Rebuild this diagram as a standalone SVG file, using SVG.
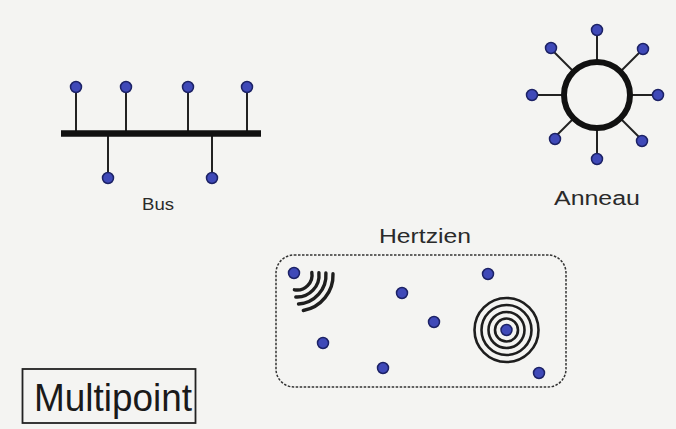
<svg xmlns="http://www.w3.org/2000/svg" width="676" height="429" viewBox="0 0 676 429">
  <defs>
    <style>
      .node { fill: #3f49b8; stroke: #1c2266; stroke-width: 1.5; }
      .wire { stroke: #222; stroke-width: 2; fill: none; }
      .label { font-family: "Liberation Sans", Arial, sans-serif; fill: #2a2a2a; text-anchor: middle; }
      .wave { stroke: #1e1e1e; stroke-width: 2.6; fill: none; }
      .arc { stroke: #1e1e1e; stroke-width: 3.4; fill: none; stroke-linecap: round; }
    </style>
  </defs>
  <rect width="676" height="429" fill="#f4f4f2"/>

  <!-- Bus topology -->
  <g id="bus">
    <g id="bus-wires">
      <line class="wire" x1="76" y1="87" x2="76" y2="133"/>
      <line class="wire" x1="126" y1="87" x2="126" y2="133"/>
      <line class="wire" x1="188" y1="87" x2="188" y2="133"/>
      <line class="wire" x1="247" y1="87" x2="247" y2="133"/>
      <line class="wire" x1="108" y1="133" x2="108" y2="178"/>
      <line class="wire" x1="212" y1="133" x2="212" y2="178"/>
      <line x1="61" y1="133.5" x2="261" y2="133.5" stroke="#111" stroke-width="6.5"/>
    </g>
    <circle class="node" cx="76" cy="87" r="5.5"/>
    <circle class="node" cx="126" cy="87" r="5.5"/>
    <circle class="node" cx="188" cy="87" r="5.5"/>
    <circle class="node" cx="247" cy="87" r="5.5"/>
    <circle class="node" cx="108" cy="178" r="5.5"/>
    <circle class="node" cx="212" cy="178" r="5.5"/>
    <text class="label" x="158" y="210" font-size="17" textLength="32" lengthAdjust="spacingAndGlyphs">Bus</text>
  </g>

  <!-- Ring topology -->
  <g id="anneau">
    <g id="ring-wires">
      <line class="wire" x1="597" y1="30" x2="597" y2="160"/>
      <line class="wire" x1="532" y1="95" x2="662" y2="95"/>
      <line class="wire" x1="551" y1="49" x2="643" y2="141"/>
      <line class="wire" x1="643" y1="49" x2="551" y2="141"/>
    </g>
    <circle cx="597" cy="95" r="33" fill="#f4f4f2" stroke="#111" stroke-width="6"/>
    <circle class="node" cx="597" cy="30" r="5.5"/>
    <circle class="node" cx="643" cy="49" r="5.5"/>
    <circle class="node" cx="658" cy="95" r="5.5"/>
    <circle class="node" cx="642" cy="141" r="5.5"/>
    <circle class="node" cx="597" cy="159" r="5.5"/>
    <circle class="node" cx="555" cy="139" r="5.5"/>
    <circle class="node" cx="532" cy="95" r="5.5"/>
    <circle class="node" cx="551" cy="48" r="5.5"/>
    <text class="label" x="597" y="205" font-size="20" textLength="86" lengthAdjust="spacingAndGlyphs">Anneau</text>
  </g>

  <!-- Wireless (radio) -->
  <g id="hertzien">
    <text class="label" x="425" y="243" font-size="20" textLength="92" lengthAdjust="spacingAndGlyphs">Hertzien</text>
    <rect x="276" y="255" width="290" height="132" rx="18" ry="18" fill="none" stroke="#333" stroke-width="1.5" stroke-dasharray="2.5 1.5"/>
    <g id="emitter">
      <path class="arc" d="M 311.8 272.4 A 15 15 0 0 1 294.4 289.8"/>
      <path class="arc" d="M 318.9 272.7 A 22 22 0 0 1 295.8 297"/>
      <path class="arc" d="M 325.9 273 A 29 29 0 0 1 298.5 304"/>
      <path class="arc" d="M 333 273.7 A 36 36 0 0 1 303.3 310.5"/>
      <circle class="node" cx="294" cy="273" r="5.5"/>
    </g>
    <g id="broadcast">
      <circle class="wave" cx="506.5" cy="330" r="32"/>
      <circle class="wave" cx="506.5" cy="330" r="25"/>
      <circle class="wave" cx="506.5" cy="330" r="18"/>
      <circle class="wave" cx="506.5" cy="330" r="11.5"/>
      <circle class="node" cx="506.5" cy="330" r="5.5"/>
    </g>
    <circle class="node" cx="402" cy="293" r="5.5"/>
    <circle class="node" cx="434" cy="322" r="5.5"/>
    <circle class="node" cx="323" cy="343" r="5.5"/>
    <circle class="node" cx="383" cy="368" r="5.5"/>
    <circle class="node" cx="488" cy="274" r="5.5"/>
    <circle class="node" cx="539" cy="373" r="5.5"/>
  </g>

  <!-- Title box -->
  <g id="multipoint">
    <rect x="22.5" y="369" width="173" height="54" fill="none" stroke="#222" stroke-width="1.8"/>
    <text x="113" y="411" font-family="Liberation Sans, Arial, sans-serif" font-size="38" fill="#1a1a1a" text-anchor="middle" textLength="158" lengthAdjust="spacingAndGlyphs">Multipoint</text>
  </g>
</svg>
